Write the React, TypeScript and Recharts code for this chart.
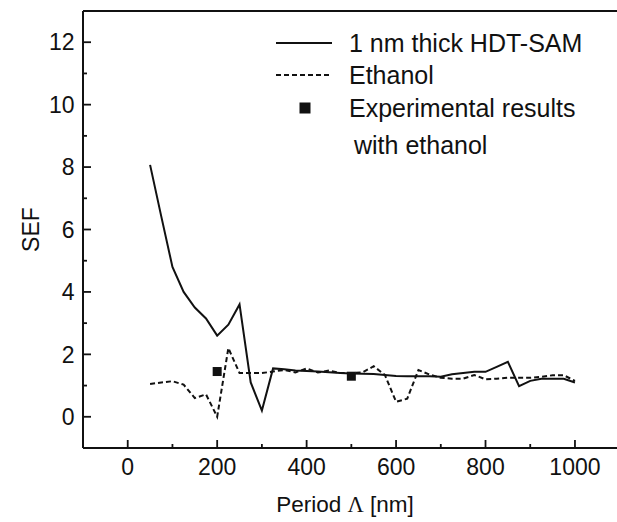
import {
  ComposedChart,
  Line,
  ReferenceLine,
  Scatter,
  XAxis,
  YAxis,
} from "recharts";

const periodNm = [
  50, 75, 100, 125, 150, 175, 200, 225, 250, 275, 300, 325, 350, 375, 400, 425,
  450, 475, 500, 525, 550, 575, 600, 625, 650, 675, 700, 725, 750, 775, 800,
  825, 850, 875, 900, 925, 950, 975, 1000,
];
const hdtSamSef = [
  8.07, 6.42, 4.8, 4.0, 3.5, 3.15, 2.6, 2.95, 3.6, 1.1, 0.2, 1.55, 1.52, 1.48,
  1.47, 1.45, 1.43, 1.4, 1.39, 1.38, 1.37, 1.34, 1.31, 1.3, 1.3, 1.3, 1.28,
  1.36, 1.4, 1.44, 1.44, 1.6, 1.76, 0.98, 1.15, 1.22, 1.22, 1.22, 1.1,
];
const ethanolSef = [
  1.05, 1.1, 1.14, 1.03, 0.6, 0.72, 0.0, 2.2, 1.4, 1.4, 1.4, 1.45, 1.5, 1.42,
  1.55, 1.42, 1.48, 1.4, 1.4, 1.42, 1.62, 1.34, 0.48, 0.58, 1.5, 1.35, 1.25,
  1.22, 1.22, 1.34, 1.2, 1.22, 1.25, 1.25, 1.25, 1.28, 1.33, 1.33, 1.15,
];
const expPeriod = [200, 500];
const expSef = [1.45, 1.3];

const xTicks = [0, 100, 200, 300, 400, 500, 600, 700, 800, 900, 1000];
const yTicks = [0, 1, 2, 3, 4, 5, 6, 7, 8, 9, 10, 11, 12];

const FONT = "'Liberation Sans', Arial, sans-serif";
const INK = "#111";

const rows = periodNm.map((p, i) => ({
  period: p,
  hdt: hdtSamSef[i],
  ethanol: ethanolSef[i],
}));
const expRows = expPeriod.map((p, i) => ({ period: p, sef: expSef[i] }));

function XTick({ x, y, payload }: any) {
  const major = payload.value % 200 === 0;
  return (
    <g>
      <line x1={x} x2={x} y1={y} y2={y - (major ? 8 : 4)} stroke={INK} strokeWidth={1.8} />
      {major && (
        <text x={x} y={y + 27} textAnchor="middle" fontSize={23} fontFamily={FONT} fill={INK}>
          {payload.value}
        </text>
      )}
    </g>
  );
}

function YTick({ x, y, payload }: any) {
  const major = payload.value % 2 === 0;
  return (
    <g>
      <line x1={x} x2={x + (major ? 8 : 4)} y1={y} y2={y} stroke={INK} strokeWidth={1.8} />
      {major && (
        <text x={x - 8.5} y={y + 8.2} textAnchor="end" fontSize={23} fontFamily={FONT} fill={INK}>
          {payload.value}
        </text>
      )}
    </g>
  );
}

function SquareDot({ cx, cy }: any) {
  return <rect x={cx - 4.5} y={cy - 4.5} width={9} height={9} fill={INK} />;
}

export default function App() {
  // the source figure is cropped just before its right frame edge, so the x range
  // stops at ~1094 instead of 1100 and no right border is drawn
  return (
    <div style={{ position: "relative", width: 617, height: 522, overflow: "hidden" }}>
      <style>{"html,body{margin:0;overflow:hidden}"}</style>
      <ComposedChart
        width={617}
        height={522}
        data={rows}
        margin={{ top: 11, right: 0, bottom: 0, left: 0 }}
      >
        <XAxis
          type="number"
          dataKey="period"
          domain={[-100, 1094]}
          ticks={xTicks}
          interval={0}
          tickLine={false}
          tickSize={0}
          tickMargin={0}
          tick={<XTick />}
          axisLine={{ stroke: INK, strokeWidth: 2 }}
          height={74}
          allowDataOverflow
          label={{
            content: ({ viewBox }: any) => (
              <text
                x={viewBox.x + 262}
                y={viewBox.y + 64}
                textAnchor="middle"
                fontSize={22.5}
                fontFamily={FONT}
                fill={INK}
              >
                Period{" "}
                <tspan fontFamily="'Liberation Serif', 'DejaVu Serif', serif">Λ</tspan> [nm]
              </text>
            ),
          }}
        />
        <YAxis
          type="number"
          domain={[-1, 13]}
          ticks={yTicks}
          interval={0}
          tickLine={false}
          tickSize={0}
          tickMargin={0}
          tick={<YTick />}
          axisLine={{ stroke: INK, strokeWidth: 2 }}
          width={83}
          allowDataOverflow
          label={{
            content: ({ viewBox }: any) => {
              const cy = viewBox.y + viewBox.height / 2;
              return (
                <text
                  x={31}
                  y={cy}
                  transform={`rotate(-90, 31, ${cy})`}
                  textAnchor="middle"
                  dominantBaseline="central"
                  fontSize={23}
                  fontFamily={FONT}
                  fill={INK}
                >
                  SEF
                </text>
              );
            },
          }}
        />
        <ReferenceLine y={13} stroke={INK} strokeWidth={2} />
        <Line
          type="linear"
          dataKey="hdt"
          stroke={INK}
          strokeWidth={2}
          dot={false}
          isAnimationActive={false}
        />
        <Line
          type="linear"
          dataKey="ethanol"
          stroke={INK}
          strokeWidth={2}
          strokeDasharray="5 3"
          dot={false}
          isAnimationActive={false}
        />
        <Scatter data={expRows} dataKey="sef" shape={<SquareDot />} isAnimationActive={false} />
      </ComposedChart>
      <svg
        width={617}
        height={522}
        style={{ position: "absolute", left: 0, top: 0, pointerEvents: "none" }}
        fontFamily={FONT}
        fontSize={25}
        fill={INK}
      >
        <line x1={276} x2={332} y1={43} y2={43} stroke={INK} strokeWidth={2} />
        <text x={349} y={52}>1 nm thick HDT-SAM</text>
        <line x1={276} x2={332} y1={75} y2={75} stroke={INK} strokeWidth={2} strokeDasharray="5 3" />
        <text x={349} y={84}>Ethanol</text>
        <rect x={299.5} y={102.5} width={11} height={11} fill={INK} />
        <text x={349} y={117}>Experimental results</text>
        <text x={354} y={154}>with ethanol</text>
      </svg>
    </div>
  );
}
